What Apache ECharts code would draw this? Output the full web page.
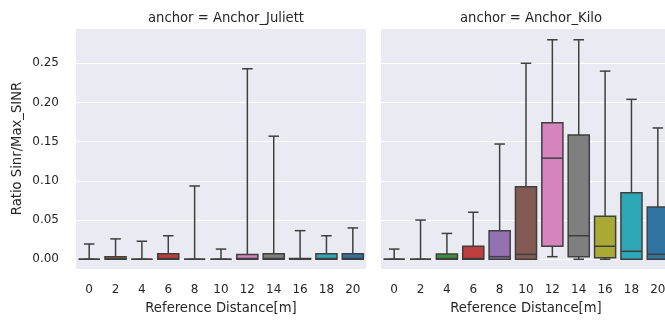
<!DOCTYPE html>
<html>
<head>
<meta charset="utf-8">
<script src="https://cdn.jsdelivr.net/npm/echarts@6/dist/echarts.min.js"></script>
<style>
  html, body { margin: 0; padding: 0; background: #fff; }
  #chart { width: 665px; height: 320px; }
</style>
</head>
<body>
<div id="chart"></div>
<script>
// 类别（参考距离）
var distances = ['0', '2', '4', '6', '8', '10', '12', '14', '16', '18', '20'];

// 每个箱子: [min, Q1, median, Q3, max]
var juliettBoxes = [
    [0, 0, 0, 0, 0.0195],
    [0, 0, 0.001, 0.0033, 0.026],
    [0, 0, 0, 0, 0.023],
    [0, 0, 0.001, 0.007, 0.030],
    [0, 0, 0, 0, 0.0935],
    [0, 0, 0, 0, 0.013],
    [0, 0, 0.001, 0.006, 0.243],
    [0, 0, 0.001, 0.007, 0.157],
    [0, 0, 0, 0.001, 0.0365],
    [0, 0, 0.001, 0.007, 0.030],
    [0, 0, 0.001, 0.007, 0.040]
];

var kiloBoxes = [
    [0, 0, 0, 0, 0.013],
    [0, 0, 0, 0, 0.050],
    [0, 0, 0.001, 0.0068, 0.033],
    [0, 0, 0.001, 0.0166, 0.060],
    [0, 0, 0.0033, 0.0365, 0.147],
    [0, 0, 0.0063, 0.0926, 0.250],
    [0.0033, 0.0166, 0.129, 0.174, 0.280],
    [0, 0.0033, 0.030, 0.1585, 0.280],
    [0, 0.002, 0.0166, 0.055, 0.240],
    [0, 0, 0.0102, 0.085, 0.204],
    [0, 0, 0.0064, 0.0667, 0.1675]
];

// seaborn 默认调色板 (饱和度 0.75)
var palette = ['#3274a1', '#e1812c', '#3a923a', '#c03d3e', '#9372b2', '#845b53',
               '#d684bd', '#7f7f7f', '#a9aa35', '#2ea8b6', '#3274a1'];

var lineColor = '#3f3f3f';
var textColor = '#262626';

function toData(boxes) {
    return boxes.map(function (b, i) {
        return [i, b[0], b[1], b[2], b[3], b[4]];
    });
}

function renderBox(params, api) {
    var i = api.value(0);
    var band = api.size([1, 0])[0];
    var boxW = band * 0.8;
    var capW = boxW / 2;
    var pMin = api.coord([i, api.value(1)]);
    var pQ1 = api.coord([i, api.value(2)]);
    var pMed = api.coord([i, api.value(3)]);
    var pQ3 = api.coord([i, api.value(4)]);
    var pMax = api.coord([i, api.value(5)]);
    var cx = pQ1[0];
    var lineStyle = { stroke: lineColor, lineWidth: 1.5 };
    return {
        type: 'group',
        children: [
            { type: 'line', shape: { x1: cx, y1: pQ1[1], x2: cx, y2: pMin[1] }, style: lineStyle },
            { type: 'line', shape: { x1: cx, y1: pQ3[1], x2: cx, y2: pMax[1] }, style: lineStyle },
            { type: 'line', shape: { x1: cx - capW / 2, y1: pMin[1], x2: cx + capW / 2, y2: pMin[1] }, style: lineStyle },
            { type: 'line', shape: { x1: cx - capW / 2, y1: pMax[1], x2: cx + capW / 2, y2: pMax[1] }, style: lineStyle },
            {
                type: 'rect',
                shape: { x: cx - boxW / 2, y: pQ3[1], width: boxW, height: pQ1[1] - pQ3[1] },
                style: { fill: palette[i], stroke: lineColor, lineWidth: 1.5 }
            },
            { type: 'line', shape: { x1: cx - boxW / 2, y1: pMed[1], x2: cx + boxW / 2, y2: pMed[1] }, style: lineStyle }
        ]
    };
}

var myChart = echarts.init(document.getElementById('chart'), null, { renderer: 'canvas' });

var fontFamily = 'DejaVu Sans';

function makeXAxis(gridIndex) {
    return {
        type: 'category',
        gridIndex: gridIndex,
        data: distances,
        name: 'Reference Distance[m]',
        nameLocation: 'middle',
        nameGap: 33,
        nameTextStyle: { color: textColor, fontSize: 13.2, fontFamily: fontFamily },
        axisLine: { show: false },
        axisTick: { show: false },
        axisLabel: { color: textColor, fontSize: 12, fontFamily: fontFamily, margin: 15, interval: 0 },
        splitLine: { show: false }
    };
}

function makeYAxis(gridIndex, showLabels) {
    return {
        type: 'value',
        gridIndex: gridIndex,
        min: -0.0124,
        max: 0.295,
        splitNumber: 5,
        name: showLabels ? 'Ratio Sinr/Max_SINR' : '',
        nameLocation: 'middle',
        nameGap: 52,
        nameTextStyle: { color: textColor, fontSize: 13.2, fontFamily: fontFamily },
        axisLine: { show: false },
        axisTick: { show: false },
        axisLabel: {
            show: showLabels,
            color: textColor,
            fontSize: 12,
            fontFamily: fontFamily,
            margin: 17,
            showMinLabel: false,
            showMaxLabel: false,
            formatter: function (v) { return v.toFixed(2); }
        },
        splitLine: { show: true, lineStyle: { color: '#ffffff', width: 1.2 } }
    };
}

var option = {
    animation: false,
    textStyle: { fontFamily: fontFamily },
    title: [
        { text: 'anchor = Anchor_Juliett', left: 221, top: 7, textAlign: 'center',
          textStyle: { color: textColor, fontSize: 13.2, fontWeight: 'normal', fontFamily: fontFamily } },
        { text: 'anchor = Anchor_Kilo', left: 526, top: 7, textAlign: 'center',
          textStyle: { color: textColor, fontSize: 13.2, fontWeight: 'normal', fontFamily: fontFamily } }
    ],
    grid: [
        { left: 76, top: 28, width: 290, height: 241, outerBoundsMode: 'none', containLabel: false,
          show: true, backgroundColor: '#eaeaf2', borderWidth: 0 },
        { left: 381, top: 28, width: 290, height: 241, outerBoundsMode: 'none', containLabel: false,
          show: true, backgroundColor: '#eaeaf2', borderWidth: 0 }
    ],
    xAxis: [makeXAxis(0), makeXAxis(1)],
    yAxis: [makeYAxis(0, true), makeYAxis(1, false)],
    series: [
        {
            type: 'custom',
            xAxisIndex: 0,
            yAxisIndex: 0,
            renderItem: renderBox,
            encode: { x: 0, y: [1, 2, 3, 4, 5] },
            data: toData(juliettBoxes)
        },
        {
            type: 'custom',
            xAxisIndex: 1,
            yAxisIndex: 1,
            renderItem: renderBox,
            encode: { x: 0, y: [1, 2, 3, 4, 5] },
            data: toData(kiloBoxes)
        }
    ]
};

myChart.setOption(option);
</script>
</body>
</html>
